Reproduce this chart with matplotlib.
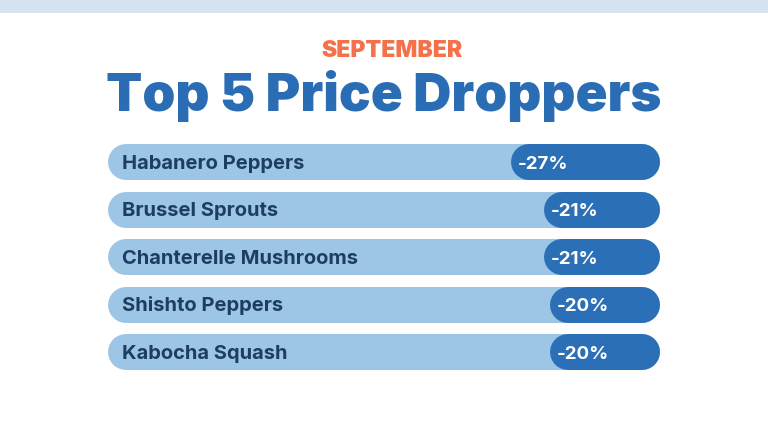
import matplotlib
matplotlib.use("Agg")
import matplotlib.pyplot as plt
from matplotlib.patches import Rectangle

# ---- data ----
items = ["Habanero Peppers", "Brussel Sprouts", "Chanterelle Mushrooms",
         "Shishto Peppers", "Kabocha Squash"]
changes = [-27, -21, -21, -20, -20]
month = "SEPTEMBER"
title = "Top 5 Price Droppers"

# ---- style ----
W, H, DPI = 768, 447, 100
LIGHT = "#9dc6e6"
DARK = "#2b6fb6"
TITLE_C = "#2a6db5"
ORANGE = "#f4714a"
LABEL_C = "#1d3e62"
BAND = "#d6e3f0"
FONT = ["Inter", "DejaVu Sans"]

fig = plt.figure(figsize=(W / DPI, H / DPI), dpi=DPI)
fig.patch.set_facecolor("white")

# top band
fig.patches.append(Rectangle((0, 1 - 13 / H), 1, 13 / H, transform=fig.transFigure,
                             facecolor=BAND, edgecolor="none"))

fig.text(392 / W, 1 - 57 / H, month, ha="center", va="baseline", color=ORANGE,
         fontsize=16.5, fontweight="black", family=FONT)
fig.text(384 / W, 1 - 111.5 / H, title, ha="center", va="baseline", color=TITLE_C,
         fontsize=38, fontweight="black", family=FONT)

# bar axes: x in percent (-100..0), y in category index
left_px, right_px = 108, 660
top_px, bot_px = 162 - 23.75, 352 + 23.75
ax = fig.add_axes([left_px / W, 1 - bot_px / H, (right_px - left_px) / W, (bot_px - top_px) / H])
ax.set_xlim(-100, 0)
ax.set_ylim(len(items) - 0.5, -0.5)
ax.axis("off")

xpp = 100 / (right_px - left_px)       # x data per pixel
bar_px = 36
r = (bar_px / 2) * xpp                  # cap radius in x data units
lw = bar_px * 72 / DPI                  # line width in points

for i, (name, v) in enumerate(zip(items, changes)):
    ax.plot([-100 + r, -r], [i, i], color=LIGHT, lw=lw, solid_capstyle="round",
            clip_on=False)
    ax.plot([v + r, -r], [i, i], color=DARK, lw=lw, solid_capstyle="round",
            clip_on=False)
    ax.annotate(name, xy=(-100, i), xytext=(10, -5), textcoords="offset points",
                ha="left", va="baseline", color=LABEL_C, fontsize=14.5,
                fontweight="bold", family=FONT)
    ax.annotate(f"{v}%", xy=(v, i), xytext=(5, -4.9), textcoords="offset points",
                ha="left", va="baseline", color="white", fontsize=13.5,
                fontweight="bold", family=FONT)

fig.savefig("out.png", dpi=DPI)
